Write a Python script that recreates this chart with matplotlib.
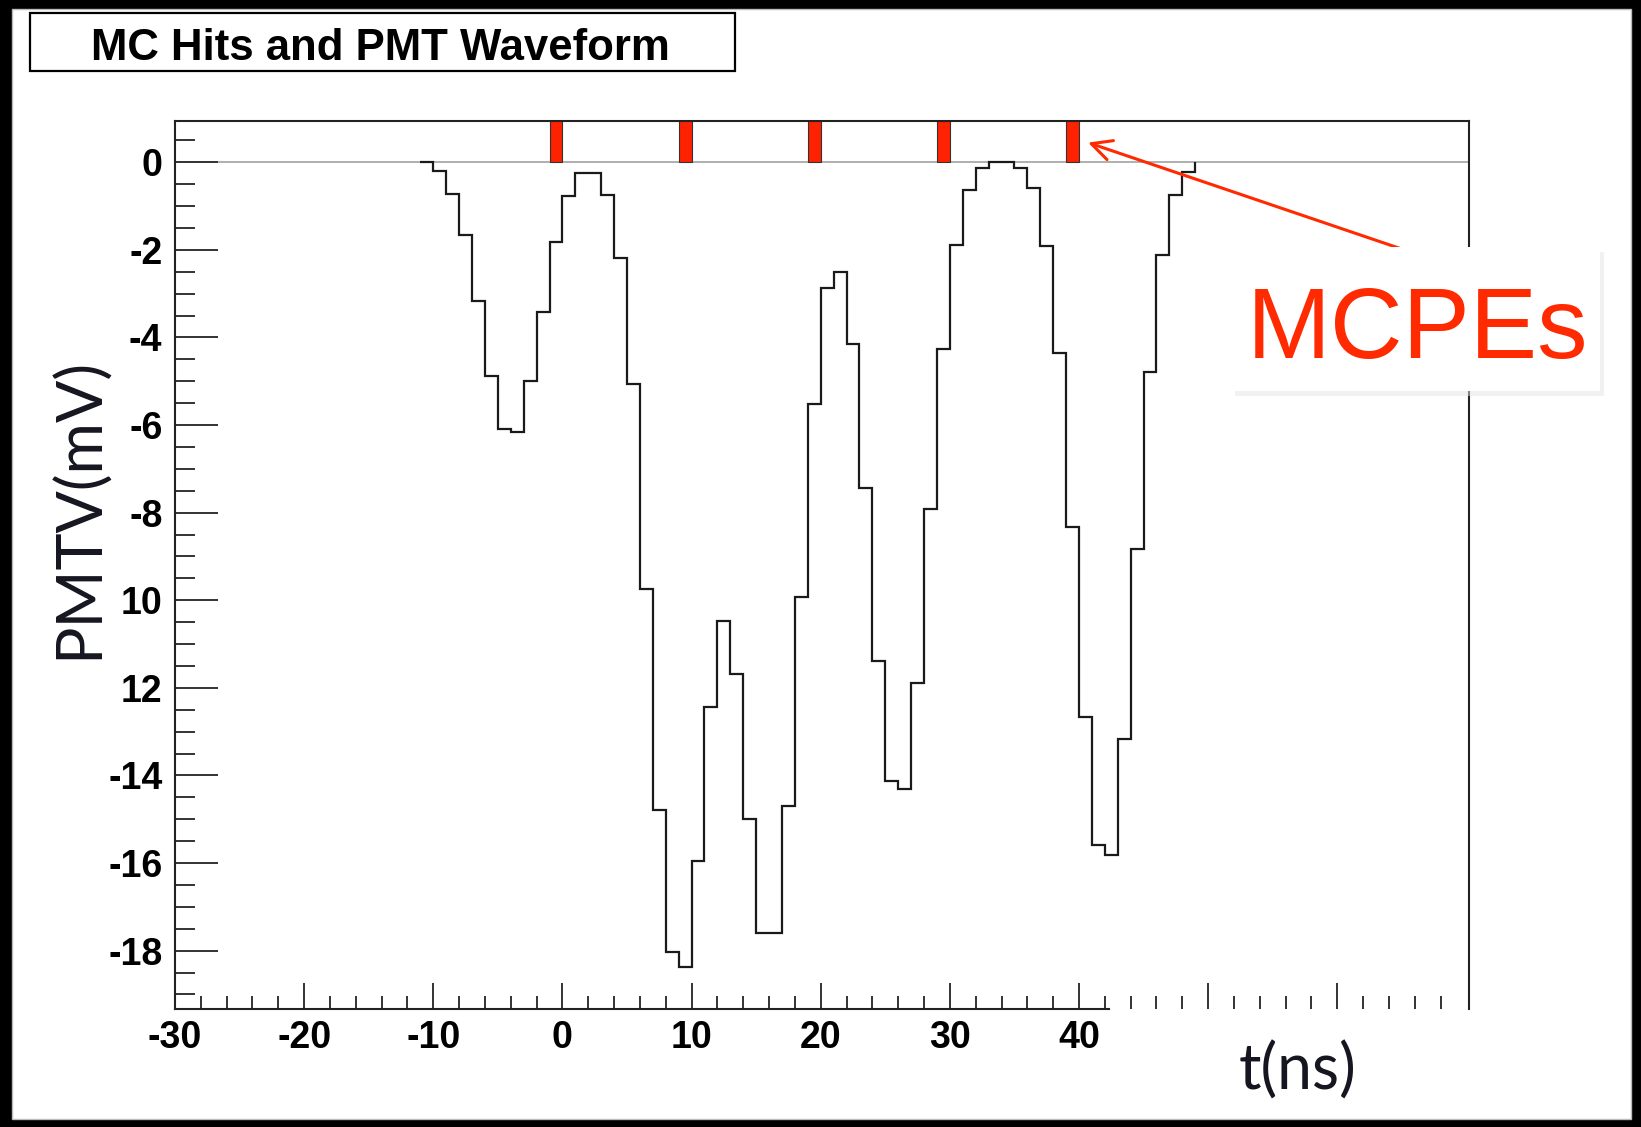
import numpy as np
import matplotlib
matplotlib.use("Agg")
import matplotlib.pyplot as plt
from matplotlib.patches import Rectangle

# === Data ===
# PMT waveform, 1 ns bins starting at wave_t0 (mV)
wave_t0 = -11
wave_mv = [0.0, -0.19, -0.73, -1.66, -3.16, -4.87, -6.10, -6.16, -5.00, -3.42,
           -1.83, -0.78, -0.25, -0.25, -0.75, -2.19, -5.06, -9.74, -14.79, -18.04,
           -18.38, -15.96, -12.43, -10.48, -11.69, -14.99, -17.60, -17.60, -14.69, -9.93,
           -5.52, -2.87, -2.51, -4.14, -7.43, -11.39, -14.12, -14.30, -11.88, -7.91,
           -4.26, -1.89, -0.63, -0.14, 0.0, 0.0, -0.14, -0.59, -1.90, -4.35,
           -8.33, -12.67, -15.58, -15.82, -13.17, -8.84, -4.78, -2.11, -0.75, -0.21]

# MC hit times (left edge of 1 ns bin) and counts
hit_times = [-1, 9, 19, 29, 39]
hit_counts = [5, 5, 5, 5, 5]

xticks = [-30, -20, -10, 0, 10, 20, 30, 40, 50, 60]
xticklabels = ["-30", "-20", "-10", "0", "10", "20", "30", "40", "", ""]
yticks = [-18, -16, -14, -12, -10, -8, -6, -4, -2, 0]
yticklabels = ["-18", "-16", "-14", "12", "10", "-8", "-6", "-4", "-2", "0"]

W, H = 1641, 1127
red = "#ff2a00"
label_col = "#15161f"

def fx(px):
    return px / W

def fy(py):
    return 1 - py / H

fig = plt.figure(figsize=(W / 100, H / 100), dpi=100, facecolor="black")

# white slide area inside the black frame
fig.patches.append(Rectangle((fx(12), fy(1119)), fx(1631) - fx(12), fy(9) - fy(1119),
                             transform=fig.transFigure, facecolor="white",
                             edgecolor="#bbbbbb", lw=1, zorder=-5))

ax = fig.add_axes([fx(175), fy(1009.3), fx(1469) - fx(175), fy(120.7) - fy(1009.3)])
ax.set_xlim(-30, 70.2)
ax.set_ylim(-19.34, 0.95)

# === Graficar ===
ax.axhline(0, color="#9a9a9a", lw=1.1, zorder=1)
ax.bar(hit_times, hit_counts, width=1, align="edge", bottom=0,
       color="#ff2200", edgecolor="#333333", lw=0.8, zorder=2)
edges = wave_t0 + np.arange(len(wave_mv) + 1)
ax.stairs(wave_mv, edges, baseline=0, color="#1a1a1a", lw=1.6, zorder=3)

for s in ax.spines.values():
    s.set_linewidth(1.5)
    s.set_color("#222222")
ax.spines["bottom"].set_bounds(-30, 42.3)

ax.set_xticks(xticks)
ax.set_xticklabels(xticklabels)
ax.set_xticks(np.arange(-30, 69, 2), minor=True)
ax.set_yticks(yticks)
ax.set_yticklabels(yticklabels)
ax.set_yticks(np.arange(-19, 1, 0.5), minor=True)

tick_font = dict(family="Liberation Sans", weight="bold", size=27)
for lab in ax.get_xticklabels() + ax.get_yticklabels():
    lab.set_fontproperties(matplotlib.font_manager.FontProperties(**tick_font))

ax.tick_params(axis="x", which="major", direction="in", length=18.7, width=1.4, pad=8, color="#333333")
ax.tick_params(axis="x", which="minor", direction="in", length=9.4, width=1.4, color="#333333")
ax.tick_params(axis="y", which="major", direction="in", length=31, width=1.4, pad=9, color="#333333")
ax.tick_params(axis="y", which="minor", direction="in", length=14.4, width=1.4, color="#333333")

ax.set_ylabel("PMTV(mV)", family="Lato", fontsize=45, color=label_col, va="center", ha="center")
ax.yaxis.set_label_coords((79 - 175) / 1294, (1009.3 - 508) / 888.6)
ax.set_xlabel("t(ns)", family="Lato", fontsize=45, color=label_col, va="center", ha="center")
ax.xaxis.set_label_coords((1298 - 175) / 1294, (1009.3 - 1071) / 888.6)

# title box
fig.patches.append(Rectangle((fx(29.5), fy(70.5)), fx(735) - fx(29.5), fy(13.5) - fy(70.5),
                             transform=fig.transFigure, facecolor="white",
                             edgecolor="black", lw=1.6, zorder=4))
fig.text(fx(380), fy(60), "MC Hits and PMT Waveform", ha="center", va="baseline",
         family="Liberation Sans", weight="bold", fontsize=31.5, zorder=5)

# MCPEs callout
ax.annotate("", xy=(40.7, 0.45), xycoords="data",
            xytext=(fx(1440), fy(262)), textcoords="figure fraction",
            arrowprops=dict(arrowstyle="->,head_length=0.6,head_width=0.3", color=red,
                            lw=2.2, mutation_scale=24, shrinkA=0, shrinkB=0),
            annotation_clip=False, zorder=6)
fig.patches.append(Rectangle((fx(1235), fy(396)), fx(1604) - fx(1235), fy(252) - fy(396),
                             transform=fig.transFigure, facecolor="#e4e4e4",
                             edgecolor="none", alpha=0.5, zorder=7))
fig.patches.append(Rectangle((fx(1231), fy(391)), fx(1600) - fx(1231), fy(247) - fy(391),
                             transform=fig.transFigure, facecolor="white",
                             edgecolor="none", zorder=8))
fig.text(fx(1247), fy(358), "MCPEs", ha="left", va="baseline",
         family="Liberation Sans", fontsize=72.5, color=red, zorder=9)

fig.savefig("out.png", dpi=100, facecolor=fig.get_facecolor())
